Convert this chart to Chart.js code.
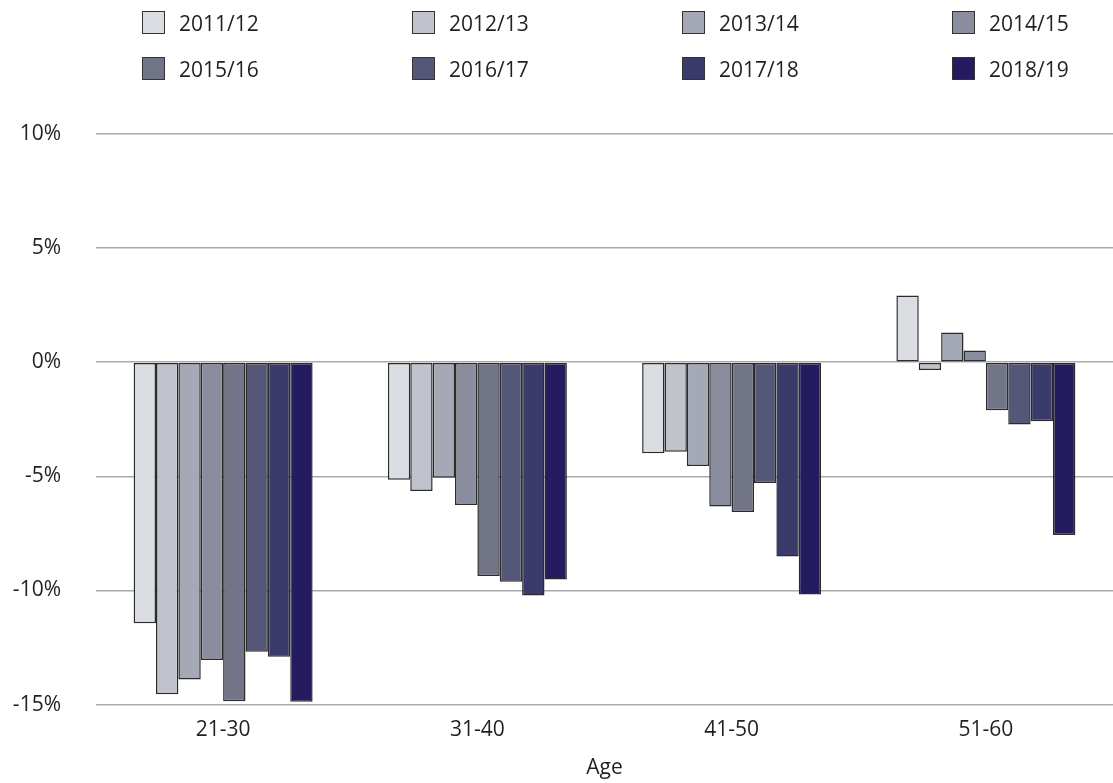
<!DOCTYPE html>
<html>
<head>
<meta charset="utf-8">
<script src="https://cdn.jsdelivr.net/npm/chart.js@4"></script>
<style>
    body { margin: 0; background: #fff; }
    #wrap { position: relative; width: 1113px; height: 783px; }
    #legend {
        position: absolute; left: 142px; top: 11px;
        display: grid; grid-template-columns: repeat(4, 270px); grid-auto-rows: 46px;
        font-family: "Open Sans", sans-serif; font-size: 21px; color: #231f20;
    }
    .item { display: flex; align-items: center; height: 23px; }
    .box { width: 21px; height: 21px; border: 1.5px solid #333; margin-right: 14px; }
</style>
</head>
<body>
<div id="wrap">
    <canvas id="bar-chart" width="1113" height="783"></canvas>
    <div id="legend"></div>
</div>
<script>
const ageGroups = ["21-30", "31-40", "41-50", "51-60"];
const yearLabels = ["2011/12", "2012/13", "2013/14", "2014/15", "2015/16", "2016/17", "2017/18", "2018/19"];

// percentage change, one array per year, in age group order
const y2011 = [-11.44, -5.15, -3.99, 2.92];
const y2012 = [-14.55, -5.64, -3.92, -0.34];
const y2013 = [-13.9, -5.06, -4.55, 1.30];
const y2014 = [-13.05, -6.26, -6.32, 0.51];
const y2015 = [-14.85, -9.37, -6.56, -2.10];
const y2016 = [-12.68, -9.62, -5.29, -2.73];
const y2017 = [-12.9, -10.22, -8.51, -2.58];
const y2018 = [-14.88, -9.52, -10.18, -7.57];

const yTicks = [10, 5, 0, -5, -10, -15];

const barColors = ["#dadde1", "#c0c3cb", "#a5a9b5", "#8a8d9e", "#727488", "#555778", "#3a3b6b", "#241c5f"];

const allSeries = [y2011, y2012, y2013, y2014, y2015, y2016, y2017, y2018];

var datasets = [];
for (var i = 0; i < allSeries.length; i++) {
    datasets.push({
        label: yearLabels[i],
        data: allSeries[i],
        backgroundColor: barColors[i],
        borderColor: "#2b2b2b",
        borderWidth: 1.5,
        borderSkipped: false,
        categoryPercentage: 0.704,
        barPercentage: 1.0
    });
}

const font = { family: "'Open Sans', sans-serif", size: 21 };

var ctx = document.getElementById("bar-chart").getContext("2d");
var chart = new Chart(ctx, {
    type: 'bar',
    data: { labels: ageGroups, datasets: datasets },
    options: {
        responsive: false,
        animation: false,
        layout: { padding: { top: 134, left: 0, right: -6, bottom: 0 } },
        plugins: {
            legend: { display: false },
            tooltip: { enabled: false }
        },
        scales: {
            x: {
                grid: { display: false, drawTicks: false },
                border: { display: false },
                ticks: { color: "#231f20", font: font, padding: 13 },
                title: {
                    display: true, text: "Age", color: "#231f20", font: font,
                    padding: { top: 0, bottom: 2 }
                }
            },
            y: {
                min: -15, max: 10,
                afterFit: function (axis) { axis.width = 96; },
                afterBuildTicks: function (axis) {
                    axis.ticks = yTicks.map(function (v) { return { value: v }; });
                },
                grid: { color: "#aaaaaa", lineWidth: 1.5, drawTicks: false },
                border: { display: false },
                ticks: {
                    color: "#231f20", font: font, padding: 35,
                    callback: function (v) { return v + "%"; }
                }
            }
        }
    }
});

// html legend in a 4 column grid
var legend = document.getElementById("legend");
chart.data.datasets.forEach(function (ds) {
    var item = document.createElement("div");
    item.className = "item";
    var box = document.createElement("span");
    box.className = "box";
    box.style.background = ds.backgroundColor;
    item.appendChild(box);
    item.appendChild(document.createTextNode(ds.label));
    legend.appendChild(item);
});
</script>
</body>
</html>
